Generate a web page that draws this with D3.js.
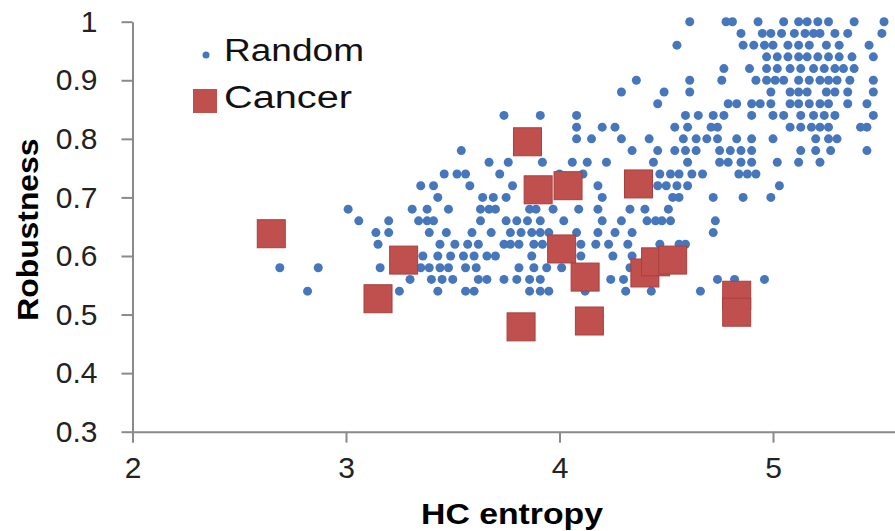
<!DOCTYPE html>
<html>
<head>
<meta charset="utf-8">
<script src="https://cdn.jsdelivr.net/npm/d3@7"></script>
<style>
  html, body { margin: 0; padding: 0; background: #fff; }
  svg { display: block; }
</style>
</head>
<body>
<svg width="895" height="531"></svg>
<script>
// Random networks, read row by row (robustness comes in steps of 0.02)
const randomRowY = [1.00, 0.98, 0.96, 0.94, 0.92, 0.90, 0.88, 0.86, 0.84, 0.82, 0.80, 0.78,
  0.76, 0.74, 0.72, 0.70, 0.68, 0.66, 0.64, 0.62, 0.60, 0.58, 0.56, 0.54]
const randomRowX = [
  [4.61, 4.78, 4.81, 4.93, 5.05, 5.12, 5.16, 5.21, 5.26, 5.38, 5.52],
  [4.85, 4.95, 4.99, 5.04, 5.10, 5.15, 5.19, 5.22, 5.29, 5.35, 5.51],
  [4.55, 4.86, 4.91, 4.96, 5.00, 5.07, 5.12, 5.17, 5.25, 5.31, 5.45],
  [4.97, 5.02, 5.07, 5.12, 5.16, 5.21, 5.26, 5.31, 5.37, 5.47],
  [4.77, 4.89, 4.97, 5.02, 5.08, 5.13, 5.19, 5.24, 5.29, 5.33, 5.38],
  [4.36, 4.61, 4.76, 4.92, 4.97, 5.01, 5.05, 5.12, 5.17, 5.22, 5.26, 5.30, 5.36, 5.47],
  [4.29, 4.49, 4.61, 4.99, 5.08, 5.12, 5.16, 5.25, 5.29, 5.35, 5.47],
  [4.46, 4.79, 4.83, 4.90, 4.94, 4.99, 5.08, 5.12, 5.17, 5.22, 5.26, 5.35, 5.44],
  [3.74, 3.91, 4.08, 4.59, 4.65, 4.72, 4.77, 4.90, 5.00, 5.05, 5.13, 5.19, 5.24, 5.29, 5.47],
  [4.08, 4.20, 4.26, 4.54, 4.60, 4.71, 4.74, 5.08, 5.13, 5.18, 5.22, 5.26, 5.41, 5.44],
  [4.08, 4.15, 4.29, 4.42, 4.58, 4.64, 4.69, 4.74, 4.83, 4.90, 5.00, 5.20, 5.26, 5.30],
  [3.54, 4.34, 4.46, 4.54, 4.59, 4.64, 4.75, 4.80, 4.85, 4.90, 5.13, 5.20, 5.27, 5.44],
  [3.67, 3.76, 3.92, 4.06, 4.13, 4.22, 4.44, 4.60, 4.75, 4.79, 4.85, 4.90, 5.02, 5.12, 5.22],
  [3.46, 3.52, 3.56, 3.72, 4.00, 4.11, 4.47, 4.52, 4.56, 4.62, 4.67, 4.84, 4.88, 4.92],
  [3.35, 3.41, 3.58, 3.78, 4.18, 4.46, 4.50, 4.55, 4.60, 5.03],
  [3.43, 3.64, 3.69, 3.75, 4.20, 4.53, 4.56, 4.72, 4.86, 4.99],
  [3.01, 3.31, 3.38, 3.48, 3.63, 3.67, 3.70, 3.86, 3.89, 3.97, 4.09, 4.18, 4.33, 4.40, 4.51],
  [3.06, 3.20, 3.34, 3.38, 3.41, 3.63, 3.75, 3.80, 3.85, 3.91, 4.02, 4.20, 4.29, 4.41, 4.45, 4.48, 4.52, 4.73],
  [3.14, 3.20, 3.39, 3.47, 3.59, 3.68, 3.77, 3.82, 3.87, 3.91, 3.95, 4.08, 4.18, 4.26, 4.34, 4.72],
  [3.15, 3.44, 3.51, 3.57, 3.62, 3.74, 3.77, 3.81, 3.88, 3.92, 4.10, 4.17, 4.23, 4.32, 4.47, 4.56, 4.59],
  [3.36, 3.43, 3.49, 3.55, 3.60, 3.66, 3.70, 3.87, 4.10, 4.25, 4.34],
  [2.69, 2.87, 3.16, 3.35, 3.39, 3.44, 3.48, 3.56, 3.61, 3.81, 3.88, 3.94, 4.01, 4.33],
  [3.30, 3.40, 3.45, 3.50, 3.62, 3.66, 3.74, 3.80, 3.86, 3.91, 4.24, 4.30, 4.74, 4.82, 4.96],
  [2.82, 3.25, 3.43, 3.56, 3.60, 3.86, 3.91, 3.95, 4.12, 4.31, 4.43, 4.66],
]

const cancerX = [2.65, 3.15, 3.27, 3.85, 3.90, 4.04, 4.01, 4.12, 3.82, 4.14, 4.37, 4.40, 4.45, 4.53, 4.83, 4.83]
const cancerY = [0.638, 0.527, 0.593, 0.795, 0.713, 0.720, 0.612, 0.564, 0.479, 0.489, 0.723, 0.571, 0.590, 0.593, 0.533, 0.504]

const xTicks = [2, 3, 4, 5]
const yTicks = [0.3, 0.4, 0.5, 0.6, 0.7, 0.8, 0.9, 1]
const seriesNames = ["Random", "Cancer"]

const randomPoints = randomRowY.flatMap((y, i) => randomRowX[i].map(x => ({ x, y })))
const cancerPoints = cancerX.map((x, i) => ({ x, y: cancerY[i] }))

const svg = d3.select("svg")
const blue = "#4677bd"
const red = "#c0504d"
const axisColor = "#8a8a8a"
const font = "'Liberation Sans', Arial, sans-serif"

const x = d3.scaleLinear().domain([2, 6]).range([132.5, 986.5])
const y = d3.scaleLinear().domain([0.3, 1]).range([431.7, 21.7])

svg.append("g")
  .attr("transform", `translate(0,${y(0.3)})`)
  .call(d3.axisBottom(x).tickValues(xTicks).tickFormat(d3.format("d")).tickSizeInner(11).tickSizeOuter(0).tickPadding(14))
svg.append("g")
  .attr("transform", `translate(${x(2)},0)`)
  .call(d3.axisLeft(y).tickValues(yTicks).tickFormat(d => d === 1 ? "1" : d3.format(".1f")(d)).tickSizeInner(11).tickSizeOuter(0).tickPadding(24))

svg.selectAll(".domain, .tick line")
  .attr("stroke", axisColor)
  .attr("stroke-width", 2)
svg.selectAll(".tick text")
  .attr("fill", "#222")
  .style("font-family", font)
  .style("font-size", "30px")

svg.append("text")
  .attr("x", 512)
  .attr("y", 524)
  .attr("text-anchor", "middle")
  .attr("textLength", 182)
  .attr("lengthAdjust", "spacingAndGlyphs")
  .style("font-family", font)
  .style("font-weight", "bold")
  .style("font-size", "29px")
  .text("HC entropy")

svg.append("text")
  .attr("transform", `translate(38,${y(0.645)}) rotate(-90)`)
  .attr("text-anchor", "middle")
  .attr("textLength", 182)
  .attr("lengthAdjust", "spacingAndGlyphs")
  .style("font-family", font)
  .style("font-weight", "bold")
  .style("font-size", "29px")
  .text("Robustness")

svg.append("g")
  .selectAll("circle")
  .data(randomPoints)
  .join("circle")
  .attr("cx", d => x(d.x))
  .attr("cy", d => y(d.y))
  .attr("r", 4.5)
  .attr("fill", blue)

const side = 28
svg.append("g")
  .selectAll("rect")
  .data(cancerPoints)
  .join("rect")
  .attr("x", d => x(d.x) - side / 2)
  .attr("y", d => y(d.y) - side / 2)
  .attr("width", side)
  .attr("height", side)
  .attr("fill", red)
  .attr("stroke", "#a8403d")
  .attr("stroke-width", 1)

// legend
const legend = svg.append("g")
legend.append("circle")
  .attr("cx", 206).attr("cy", 55).attr("r", 3.5)
  .attr("fill", blue)
legend.append("rect")
  .attr("x", 193).attr("y", 89).attr("width", 24).attr("height", 24)
  .attr("fill", red)
legend.selectAll("text")
  .data(seriesNames)
  .join("text")
  .attr("x", 224)
  .attr("y", (d, i) => 61 + i * 47)
  .attr("textLength", (d, i) => i === 0 ? 140 : 128)
  .attr("lengthAdjust", "spacingAndGlyphs")
  .style("font-family", font)
  .style("font-size", "31px")
  .attr("fill", "#111")
  .text(d => d)
</script>
</body>
</html>
